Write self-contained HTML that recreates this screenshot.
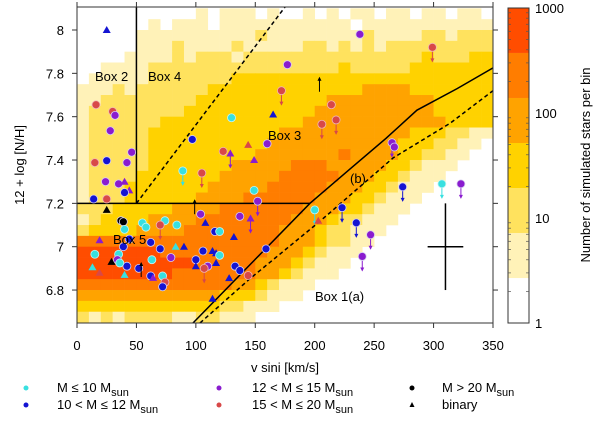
<!DOCTYPE html>
<html><head><meta charset="utf-8"><style>
html,body{margin:0;padding:0;background:#fff;}
svg{display:block;font-family:"Liberation Sans",sans-serif;}
</style></head><body>
<svg id="chart" width="600" height="423" viewBox="0 0 600 423" xmlns="http://www.w3.org/2000/svg">
<defs><clipPath id="pc"><rect x="77" y="7" width="416" height="316"/></clipPath></defs>
<g id="heat" clip-path="url(#pc)"></g>
<g id="lines" clip-path="url(#pc)"></g>
<g id="pts" clip-path="url(#pc)"></g>
<g id="axes"></g>
<g id="cbar"></g>
<g id="legend"></g>
</svg>
<script>
// ---- data ----
const heatRows = [
"00000000001011101001010110110110110",
"00000010111011111111111011111111111",
"00000111111111121111111121111221222",
"00000111211112111112212121222222222",
"00001111212221222222222222222322233",
"00111122222222222222223222223333333",
"01111122222223333333333333333333333",
"11121222222333333333333344443333333",
"11222222223333333333344444444433333",
"12222222233333333333444444444433333",
"12222223333333333334444444444443333",
"12222233333333333444444444443332211",
"12222233333333334444444444433322110",
"12222233333333344444445444433221100",
"12222233333334444455544444332111000",
"12222333333344444555554443321110000",
"12223333333444445555544433211100000",
"12223333334444555555444332111000000",
"22233333444455555554443321110000000",
"12333344445555555544432211100000000",
"23333444455555555444322111000000000",
"55555555555555555444322110000000000",
"66666665555555554443211100000000000",
"66666666665555544432111000000000000",
"66666666555555544321110000000000000",
"55555555555554432111000000000000000",
"44444444444433321110000000000000000",
"33333333333322111000000000000000000",
"21212222112211100000000000000000000"
];
const heatTopValue = 8.10;
const heatRowStep = 0.05;
const heatColStep = 10;
const levelColors = ["none","#fff2b8","#ffe25e","#ffd200","#ffa300","#ff7d00","#ff4d00"];
const cbBounds = [1,2.68,7.2,19.3,51.8,139,373,1000];
const cbTicks = [1,10,100,1000];
const xTicks = [0,50,100,150,200,250,300,350];
const yTicks = [6.8,7,7.2,7.4,7.6,7.8,8];
// points: v sini, 12+log N/H, mass class (0 cyan,1 blue,2 purple,3 red,4 black), binary, limit (-1 down, 1 up)
const ptV = [25,16,30,32,28,46,15,25,42,24,35,40,44,40,14,25,25,37,39,55,58,74,84,70,99,104,108,40,44,19,62,39,83,90,70,15,35,34,42,36,29,13,19,52,54,62,64,40,72,74,72,63,79,100,106,110,100,107,114,117,120,117,116,120,132,133,137,128,114,144,159,137,146,152,149,97,89,105,123,129,144,149,160,130,165,177,172,204,214,206,218,238,299,265,267,274,307,323,200,203,223,235,247,240];
const ptN = [8.00,7.655,7.624,7.606,7.535,7.436,7.388,7.397,7.388,7.30,7.29,7.30,7.26,7.25,7.22,7.22,7.17,7.12,7.115,7.11,7.09,7.12,7.10,7.10,7.15,7.15,7.11,7.08,7.035,7.03,7.02,7.00,7.00,7.00,6.99,6.965,6.965,6.94,6.91,6.925,6.93,6.905,6.88,6.90,6.86,6.865,6.856,6.87,6.865,6.836,6.815,6.94,6.95,6.94,6.98,6.91,6.91,6.90,6.98,6.97,6.96,6.925,7.07,7.07,7.045,6.91,6.89,6.855,6.76,6.867,6.99,7.14,7.13,7.21,7.26,7.495,7.35,7.34,7.44,7.43,7.47,7.40,7.475,7.595,7.61,7.84,7.72,7.715,7.655,7.565,7.585,7.98,7.92,7.48,7.46,7.276,7.29,7.29,7.17,7.12,7.18,7.11,7.055,6.955];
const ptM = [1,3,3,2,2,2,3,1,2,2,2,2,2,1,1,3,4,4,4,0,0,0,0,3,4,2,1,0,1,2,1,1,0,1,1,0,0,2,1,0,4,0,3,1,4,1,2,0,0,3,1,0,2,1,1,2,1,3,1,1,0,1,1,0,1,1,1,1,1,3,1,2,2,2,0,1,0,3,3,2,3,2,2,0,1,2,3,4,3,3,3,2,3,2,2,1,0,2,0,3,1,1,2,2];
const ptB = [1,0,0,0,0,0,0,0,0,0,0,1,1,0,0,0,1,0,0,0,0,0,0,0,0,0,1,0,0,1,0,0,1,1,0,0,0,0,0,0,1,1,1,0,0,0,1,1,0,0,0,0,0,0,0,0,1,0,1,1,0,1,0,0,1,0,0,1,1,0,0,0,1,0,0,0,0,0,0,1,1,1,0,0,1,0,0,0,0,0,0,0,0,0,0,0,0,0,0,1,0,0,0,0];
const ptL = [0,0,0,0,0,0,0,0,0,0,0,0,0,0,0,0,0,0,0,0,0,0,0,-1,1,0,0,0,0,0,0,0,0,0,0,0,0,0,0,0,0,0,0,0,1,0,0,0,0,0,0,0,0,0,0,0,0,-1,0,0,0,0,0,0,0,0,0,0,0,0,0,0,-1,-1,0,0,-1,-1,0,-1,0,0,0,0,0,0,-1,1,0,-1,-1,0,-1,-1,0,-1,-1,-1,-1,0,-1,-1,-1,-1];
const massColors = ["#38e0e0","#1414d2","#8a1ccf","#d84848","#000000"];
// line definitions (data units)
const curveB = [[97.6,6.648],[196,7.2],[230,7.36],[260,7.5],[286,7.63],[320,7.73],[350,7.825]];
const curveA = [[103.5,6.648],[145,6.85],[205,7.12],[266,7.41],[314,7.57],[350,7.72]];
const box4Edge = [[50,7.2],[175,8.106]];

// ---- axes ----
const X = v => 77 + v*416/350;
const Y = n => 30 + (8-n)*216.7;
const CY = c => 323 - Math.log10(c)/3*315;
const NS = "http://www.w3.org/2000/svg";
function mk(parent, tag, attrs){const e=document.createElementNS(NS,tag);for(const k in attrs)e.setAttribute(k,attrs[k]);parent.appendChild(e);return e;}

// heatmap
const heat=document.getElementById('heat');
heatRows.forEach((row,r)=>{
  for(let c=0;c<row.length;c++){
    const lv=+row[c]; if(!lv) continue;
    const x0=X(c*heatColStep), x1=X((c+1)*heatColStep);
    const yt=Y(heatTopValue-r*heatRowStep), yb=Y(heatTopValue-(r+1)*heatRowStep);
    const e=mk(heat,'rect',{x:x0,y:yt,width:x1-x0+0.3,height:yb-yt+0.3,fill:levelColors[lv]});
    
    
  }
});

// lines
const lines=document.getElementById('lines');
function poly(pts,dash,name){
  const e=mk(lines,'polyline',{points:pts.map(p=>X(p[0])+','+Y(p[1])).join(' '),fill:'none',stroke:'#000','stroke-width':1.5});
  if(dash) e.setAttribute('stroke-dasharray','4,3');
  
  
}
poly([[50,7.2],[50,8.2]],false,'box2-divider');
poly([[0,7.2],[196,7.2]],false,'box5-top');
poly(box4Edge,true,'box4-edge');
poly(curveB,false,'curve-b');
poly(curveA,true,'curve-a');
// error cross
poly([[310,7.20],[310,6.80]],false,'error-bar-vertical');
poly([[295,7.0],[325,7.0]],false,'error-bar-horizontal');

// points
const pts=document.getElementById('pts');
for(let i=0;i<ptV.length;i++){
  const x=X(ptV[i]), y=Y(ptN[i]), col=massColors[ptM[i]];
  if(ptL[i]!==0){
    const d=ptL[i]*-1;
    const arrowCol = ptM[i]===4?'#000':col;
    const a=mk(pts,'line',{x1:x,y1:y,x2:x,y2:y+d*14,stroke:arrowCol,'stroke-width':1});
    
    
    const h=mk(pts,'polygon',{points:`${x-2},${y+d*11} ${x+2},${y+d*11} ${x},${y+d*15}`,fill:arrowCol});
    
    
    if(ptM[i]===4) continue;
  }
  let e;
  if(ptB[i]){
    e=mk(pts,'polygon',{points:`${x-4},${y+3} ${x+4},${y+3} ${x},${y-4}`,fill:col});
  } else {
    e=mk(pts,'circle',{cx:x,cy:y,r:4,fill:col,stroke:ptM[i]===3?'#f0b8b8':(ptM[i]===0?'#c8f4f4':'#d8d0f0'),'stroke-width':0.8});
  }
  
  
}

// texts in plot
const axes=document.getElementById('axes');
function txt(parent,x,y,s,attrs,name){
  const e=mk(parent,'text',Object.assign({x:x,y:y,'font-size':13,fill:'#000'},attrs||{}));
  e.textContent=s;
  
  
  return e;
}
txt(axes,95,81,'Box 2',{},'box2-label');
txt(axes,148,81,'Box 4',{},'box4-label');
txt(axes,268,140,'Box 3',{},'box3-label');
txt(axes,113,244,'Box 5',{},'box5-label');
txt(axes,315,301,'Box 1(a)',{},'box1-label');
txt(axes,350,183,'(b)',{},'curve-b-label');

// frame and ticks
const fr=mk(axes,'rect',{x:77,y:7,width:416,height:316,fill:'none',stroke:'#333','stroke-width':1});


xTicks.forEach(v=>{
  const x=X(v);
  const t=mk(axes,'line',{x1:x,y1:323,x2:x,y2:328,stroke:'#333'});
  
  
  const t2=mk(axes,'line',{x1:x,y1:7,x2:x,y2:2,stroke:'#333'});
  
  
  txt(axes,x,350,String(v),{'text-anchor':'middle'},'x-tick-label');
});
yTicks.forEach(n=>{
  const y=Y(n);
  const t=mk(axes,'line',{x1:72,y1:y,x2:77,y2:y,stroke:'#333'});
  
  
  const t2=mk(axes,'line',{x1:493,y1:y,x2:498,y2:y,stroke:'#333'});
  
  
  txt(axes,64,y+5,String(n),{'text-anchor':'end'},'y-tick-label');
});
txt(axes,285,372,'v sini [km/s]',{'text-anchor':'middle'},'x-axis-title');
txt(axes,0,0,'12 + log [N/H]',{'text-anchor':'middle',transform:'translate(24,165) rotate(-90)'},'y-axis-title');

// colorbar
const cb=document.getElementById('cbar');
for(let k=0;k<cbBounds.length-1;k++){
  const y1=CY(cbBounds[k+1]), y0=CY(cbBounds[k]);
  const e=mk(cb,'rect',{x:508,y:y1,width:21,height:y0-y1,fill:k===0?'#ffffff':levelColors[k]});
  
  
}
const cbf=mk(cb,'rect',{x:508,y:8,width:21,height:315,fill:'none',stroke:'#333'});


for(let d=0;d<3;d++){for(let m=2;m<10;m++){
  const y=CY(m*Math.pow(10,d));
  const a=mk(cb,'line',{x1:508,y1:y,x2:511,y2:y,stroke:'#555','stroke-width':0.7});
  
  
  const b=mk(cb,'line',{x1:526,y1:y,x2:529,y2:y,stroke:'#555','stroke-width':0.7});
  
  
}}
cbTicks.forEach(c=>{
  const y=CY(c);
  txt(cb,535,y+5,String(c),{},'colorbar-tick-label');
});
txt(cb,0,0,'Number of simulated stars per bin',{'text-anchor':'middle',transform:'translate(590,165) rotate(-90)'},'colorbar-title');

// legend
const lg=document.getElementById('legend');
function sub(g,x,y,main,subs,name){
  const e=mk(g,'text',{x:x,y:y,'font-size':13,fill:'#000'});
  
  
  e.appendChild(document.createTextNode(main));
  const s=document.createElementNS(NS,'tspan');s.setAttribute('font-size',11);s.setAttribute('dy',4);s.textContent=subs;e.appendChild(s);
}
const legendItems=[
  [26,392,0,'M ≤ 10 M',57],
  [26,409,1,'10 < M ≤ 12 M',57],
  [219,392,2,'12 < M ≤ 15 M',252],
  [219,409,3,'15 < M ≤ 20 M',252]
];
legendItems.forEach(it=>{
  const c=mk(lg,'circle',{cx:it[0],cy:it[1]-4,r:2.5,fill:massColors[it[2]]});
  
  
  sub(lg,it[4],it[1],it[3],'sun','legend-entry');
});
const bc=mk(lg,'circle',{cx:412,cy:388,r:2.5,fill:'#000'});


sub(lg,442,392,'M > 20 M','sun','legend-entry');
const bt=mk(lg,'polygon',{points:'409.5,407 414.5,407 412,402',fill:'#000'});


txt(lg,442,409,'binary',{},'legend-entry');
</script>
</body></html>
